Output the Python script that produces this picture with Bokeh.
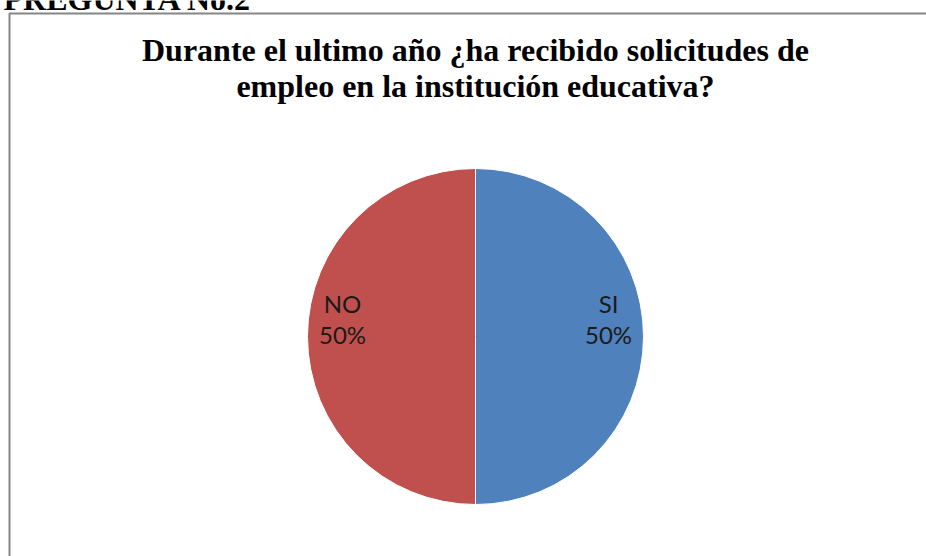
import math
from bokeh.plotting import figure
from bokeh.models import Range1d, ColumnDataSource
from bokeh.core.properties import value
from bokeh.embed import file_html
from bokeh.resources import INLINE

# ---- data ----
categories = ["SI", "NO"]
shares = [50, 50]
colors = ["#4F81BD", "#C0504D"]
title_lines = ["Durante el ultimo año ¿ha recibido solicitudes de",
               "empleo en la institución educativa?"]
header = "PREGUNTA No.2"

W, H = 926, 556
# coordinates: x = page x, y = H - page y
p = figure(width=W, height=H, output_backend="svg", toolbar_location=None,
           x_range=Range1d(0, W), y_range=Range1d(0, H),
           min_border=0, outline_line_color=None)
p.axis.visible = False
p.grid.visible = False
p.background_fill_color = "white"
p.border_fill_color = "white"

def py(y):
    return H - y

# header (cut at the top, as in the reference)
p.text(x=[3], y=[py(-2)], text=[header], text_font=value("Liberation Serif"),
       text_font_style="bold", text_font_size="32px", text_color="black",
       text_baseline="alphabetic", text_align="left")

# chart border
p.quad(left=[9], right=[960], top=[py(13)], bottom=[py(620)],
       fill_color=None, line_color="#868686", line_width=2)

# title
for i, t in enumerate(title_lines):
    p.text(x=[475], y=[py(49 + 36 * i)], text=[t], text_font=value("Liberation Serif"),
           text_font_style="bold", text_font_size="32px", text_color="black",
           text_align="center", text_baseline="alphabetic")

# pie
cx, cy, r = 475, py(336), 168
total = sum(shares)
starts, ends, mids = [], [], []
a = math.pi / 2
for v in shares:
    s = a
    e = a - 2 * math.pi * v / total
    starts.append(s)
    ends.append(e)
    mids.append((s + e) / 2)
    a = e
src = ColumnDataSource(dict(start=starts, end=ends, color=colors))
p.wedge(x=cx, y=cy, radius=r, start_angle="start", end_angle="end",
        direction="clock", fill_color="color", line_color="white",
        line_width=1, source=src)

# labels
lr = 133
for cat, v, m in zip(categories, shares, mids):
    lx = cx + lr * math.cos(m)
    ly = cy + lr * math.sin(m)
    p.text(x=[lx], y=[ly + 33], text=[cat], text_font=value("Lato"),
           text_font_size="24px", text_color="#1a1a1a",
           text_align="center", text_baseline="alphabetic")
    p.text(x=[lx], y=[ly + 2], text=[f"{v*100//total}%"], text_font=value("Lato"),
           text_font_size="24px", text_color="#1a1a1a",
           text_align="center", text_baseline="alphabetic")

open("out.html", "w").write(file_html(p, INLINE))
